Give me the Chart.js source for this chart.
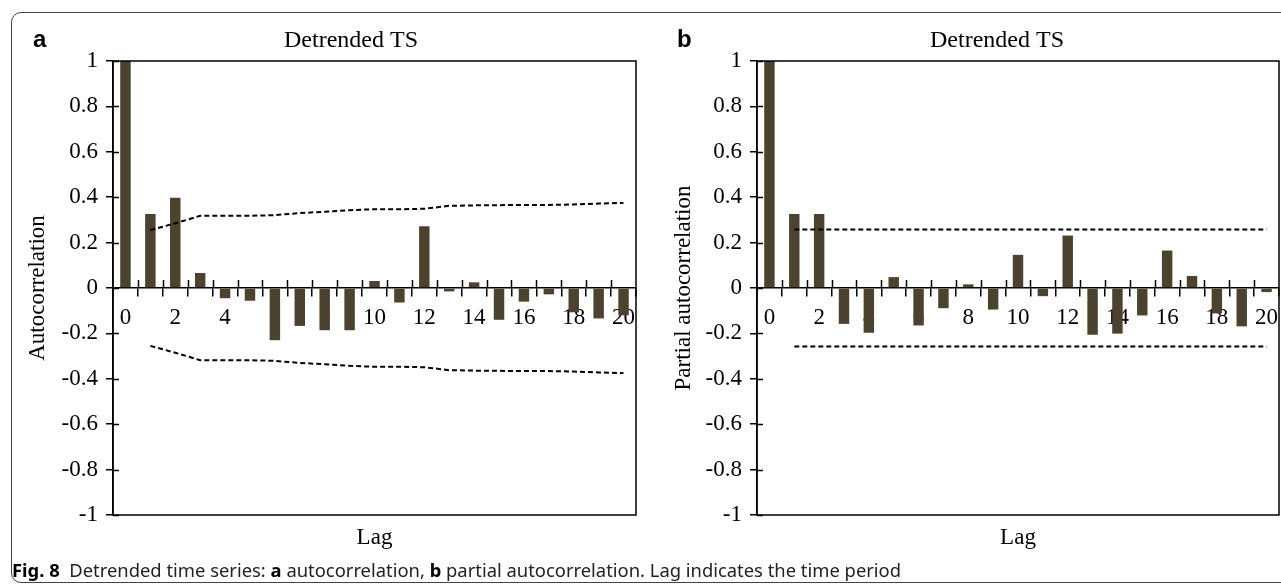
<!DOCTYPE html>
<html>
<head>
<meta charset="utf-8">
<script src="https://cdn.jsdelivr.net/npm/chart.js@4.4.1/dist/chart.umd.min.js"></script>
<style>
  html, body { margin: 0; padding: 0; background: #fff; }
  body { width: 1281px; height: 586px; position: relative; overflow: hidden; }
  .frame { position: absolute; left: 11px; top: 12px; width: 1300px; height: 571px;
           border: 1.3px solid #444; border-radius: 10px; box-sizing: border-box; }
  .panel { position: absolute; top: 25px; font: bold 24px "Liberation Sans", Arial, sans-serif; color: #000; }
  canvas { position: absolute; top: 0; }
  #acfChart { left: 0; }
  #pacfChart { left: 644px; }
  .caption { position: absolute; left: 12px; top: 557px; font: 18.4px "Noto Sans", sans-serif; color: #222; white-space: nowrap; }
  .caption b { color: #000; }
</style>
</head>
<body>
<div class="frame"></div>
<canvas id="pacfChart" width="706" height="586"></canvas>
<canvas id="acfChart" width="702" height="586"></canvas>
<div class="panel" style="left:33px">a</div>
<div class="panel" style="left:677px">b</div>
<div class="caption"><b>Fig. 8</b>&nbsp; Detrended time series: <b>a</b> autocorrelation, <b>b</b> partial autocorrelation. Lag indicates the time period</div>

<script>
const lags = ['0', '1', '2', '3', '4', '5', '6', '7', '8', '9', '10',
              '11', '12', '13', '14', '15', '16', '17', '18', '19', '20'];

// autocorrelation of the detrended series
const acf = [1, 0.326, 0.398, 0.066, -0.045, -0.056, -0.23, -0.167, -0.186, -0.186, 0.031,
             -0.064, 0.272, -0.015, 0.025, -0.14, -0.06, -0.028, -0.107, -0.134, -0.12];
const acfUpper = [null, 0.255, 0.285, 0.318, 0.318, 0.318, 0.321, 0.33, 0.336, 0.343, 0.347,
                  0.347, 0.349, 0.362, 0.364, 0.365, 0.366, 0.366, 0.368, 0.372, 0.375];
const acfLower = [null, -0.255, -0.285, -0.318, -0.318, -0.318, -0.321, -0.33, -0.336, -0.343, -0.347,
                  -0.347, -0.349, -0.362, -0.364, -0.365, -0.366, -0.366, -0.368, -0.372, -0.375];

// partial autocorrelation
const pacf = [1, 0.326, 0.326, -0.158, -0.197, 0.048, -0.165, -0.089, 0.016, -0.095, 0.146,
              -0.036, 0.231, -0.206, -0.201, -0.121, 0.165, 0.053, -0.112, -0.169, -0.018];
const pacfUpper = [null, 0.258, 0.258, 0.258, 0.258, 0.258, 0.258, 0.258, 0.258, 0.258, 0.258,
                   0.258, 0.258, 0.258, 0.258, 0.258, 0.258, 0.258, 0.258, 0.258, 0.258];
const pacfLower = [null, -0.258, -0.258, -0.258, -0.258, -0.258, -0.258, -0.258, -0.258, -0.258, -0.258,
                   -0.258, -0.258, -0.258, -0.258, -0.258, -0.258, -0.258, -0.258, -0.258, -0.258];

const yTicks = [-1, -0.8, -0.6, -0.4, -0.2, 0, 0.2, 0.4, 0.6, 0.8, 1];

const serif = 'Liberation Serif';
const barColor = '#4b432d';

// box around the plot + tick marks that cross the axes
const crossTicks = {
  id: 'crossTicks',
  afterDatasetsDraw(chart) {
    const { ctx, chartArea, scales } = chart;
    const x = scales.x, y = scales.y;
    ctx.save();
    ctx.strokeStyle = '#000';
    ctx.lineWidth = 1.5;
    ctx.strokeRect(chartArea.left, chartArea.top, chartArea.right - chartArea.left, chartArea.bottom - chartArea.top);
    ctx.beginPath();
    const zero = y.getPixelForValue(0);
    const step = x.getPixelForValue(1) - x.getPixelForValue(0);
    for (let i = 1; i < lags.length; i++) {
      const px = Math.round(x.getPixelForValue(i) - step / 2) + 0.5;
      ctx.moveTo(px, zero - 8);
      ctx.lineTo(px, zero);
    }
    yTicks.forEach(v => {
      const py = Math.round(y.getPixelForValue(v)) + 0.5;
      ctx.moveTo(y.right, py);
      ctx.lineTo(y.right + 6, py);
    });
    ctx.stroke();
    ctx.restore();
  }
};

function createChart(id, values, upper, lower, yLabel, titlePad, rightPad) {
  const band = {
    type: 'line',
    borderColor: '#000',
    borderWidth: 2,
    borderDash: [5, 3],
    pointRadius: 0,
    tension: 0,
    fill: false,
    order: 1
  };
  return new Chart(document.getElementById(id), {
    type: 'bar',
    data: {
      labels: lags,
      datasets: [
        { data: values, backgroundColor: barColor, borderWidth: 0,
          barPercentage: 0.42, categoryPercentage: 1, order: 2 },
        Object.assign({ data: upper }, band),
        Object.assign({ data: lower }, band)
      ]
    },
    plugins: [crossTicks],
    options: {
      responsive: false,
      animation: false,
      layout: { padding: 0 },
      plugins: {
        legend: { display: false },
        tooltip: { enabled: false },
        title: {
          display: true,
          text: 'Detrended TS',
          color: '#000',
          font: { family: serif, size: 24, weight: 'normal' },
          padding: { top: 26.5, bottom: 5.7 }
        }
      },
      scales: {
        x: {
          position: { y: 0 },
          offset: true,
          grid: { drawOnChartArea: false, color: '#000', lineWidth: 1.5, tickLength: 8, offset: true },
          border: { color: '#000', width: 1.5 },
          ticks: {
            autoSkip: false,
            maxRotation: 0,
            color: '#000',
            padding: 8,
            font: { family: serif, size: 23 },
            callback: (v, i) => (i % 2 === 0 ? lags[i] : '')
          }
        },
        x2: {
          position: 'bottom',
          type: 'category',
          labels: lags,
          grid: { display: false, drawTicks: false },
          border: { display: false },
          ticks: { display: false },
          title: {
            display: true,
            text: 'Lag',
            color: '#000',
            font: { family: serif, size: 23 },
            padding: { top: 9.4, bottom: 34 }
          }
        },
        y: {
          min: -1,
          max: 1,
          afterBuildTicks: scale => { scale.ticks = yTicks.map(v => ({ value: v })); },
          afterFit: scale => { scale.width = 113; },
          grid: { drawOnChartArea: false, color: '#000', lineWidth: 1.5, tickLength: 7 },
          border: { color: '#000', width: 1.5 },
          ticks: {
            color: '#000',
            padding: 8,
            font: { family: serif, size: 23 },
            callback: v => String(parseFloat(v.toFixed(1)))
          },
          title: {
            display: true,
            text: yLabel,
            color: '#000',
            font: { family: serif, size: 23 },
            padding: { top: titlePad, bottom: 0 }
          }
        },
        // empty right-hand axis, only keeps room so the title centres over the whole panel
        gap: {
          position: 'right',
          grid: { display: false, drawTicks: false },
          border: { display: false },
          ticks: { display: false },
          afterFit: scale => { scale.width = rightPad; }
        }
      }
    }
  });
}

createChart('acfChart', acf, acfUpper, acfLower, 'Autocorrelation', 24, 66);
createChart('pacfChart', pacf, pacfUpper, pacfLower, 'Partial autocorrelation', 26, 71);
</script>
</body>
</html>
